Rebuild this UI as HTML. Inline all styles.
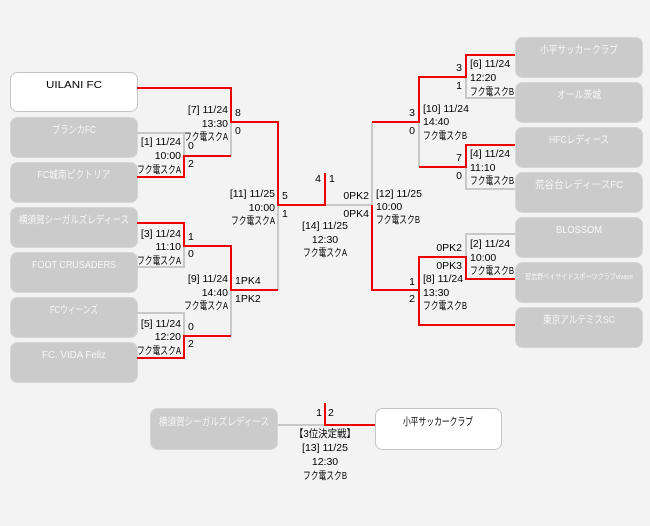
<!DOCTYPE html>
<html><head><meta charset="utf-8"><style>
html,body{margin:0;padding:0;background:#f3f3f3;}
svg{display:block;font-family:"Liberation Sans","Noto Sans CJK JP",sans-serif;font-size:10.5px;}
.t{fill:#000;}
.w{fill:#f6f6f6;font-size:10.5px;}
.b{fill:#000;font-size:10.5px;}
</style></head><body>
<svg width="650" height="526" viewBox="0 0 650 526">
<rect width="650" height="526" fill="#f3f3f3"/>
<g fill="#cbcbcb" stroke="#d6d6d6" stroke-width="1">
<rect x="10.5" y="117.5" width="127" height="40" rx="7"/>
<rect x="10.5" y="162.5" width="127" height="40" rx="7"/>
<rect x="10.5" y="207.5" width="127" height="40" rx="7"/>
<rect x="10.5" y="252.5" width="127" height="40" rx="7"/>
<rect x="10.5" y="297.5" width="127" height="40" rx="7"/>
<rect x="10.5" y="342.5" width="127" height="40" rx="7"/>
<rect x="515.5" y="37.5" width="127" height="40" rx="7"/>
<rect x="515.5" y="82.5" width="127" height="40" rx="7"/>
<rect x="515.5" y="127.5" width="127" height="40" rx="7"/>
<rect x="515.5" y="172.5" width="127" height="40" rx="7"/>
<rect x="515.5" y="217.5" width="127" height="40" rx="7"/>
<rect x="515.5" y="262.5" width="127" height="40" rx="7"/>
<rect x="515.5" y="307.5" width="127" height="40" rx="7"/>
<rect x="150.5" y="408.5" width="127" height="41" rx="7"/>
</g>
<g fill="#fff" stroke="#c4c4c4" stroke-width="1">
<rect x="10.5" y="72.5" width="127" height="39" rx="7"/>
<rect x="375.5" y="408.5" width="126" height="41" rx="7"/>
</g>
<g fill="none" stroke="#c8c8c8" stroke-width="2">
<polyline points="137,133 184,133 184,156"/>
<polyline points="231,122 231,156"/>
<polyline points="184,246 184,267 137,267"/>
<polyline points="231,290 231,336"/>
<polyline points="137,313 184,313 184,336"/>
<polyline points="278,205 278,290"/>
<polyline points="325,205 372,205 372,122"/>
<polyline points="466,77 466,98 515,98"/>
<polyline points="419,122 419,167"/>
<polyline points="466,167 466,189 515,189"/>
<polyline points="466,257 466,234 515,234"/>
<polyline points="278,425 325,425"/>
</g>
<g fill="none" stroke="#ee0000" stroke-width="2">
<polyline points="137,88 231,88 231,122 278,122 278,205 325,205 325,173"/>
<polyline points="137,177 184,177 184,156 231,156"/>
<polyline points="137,223 184,223 184,246 231,246 231,290 278,290"/>
<polyline points="137,358 184,358 184,336 231,336"/>
<polyline points="372,205 372,290 419,290"/>
<polyline points="372,122 419,122 419,77 466,77 466,55 515,55"/>
<polyline points="419,167 466,167 466,145 515,145"/>
<polyline points="515,279 466,279 466,257 419,257 419,325 515,325"/>
<polyline points="325,403 325,425 375,425"/>
</g>
<g class="w" text-anchor="middle">
<text x="74" y="88" class="b" textLength="56" lengthAdjust="spacingAndGlyphs">UILANI FC</text>
<text x="74" y="133" textLength="44" lengthAdjust="spacingAndGlyphs">ブランカFC</text>
<text x="74" y="178" textLength="73" lengthAdjust="spacingAndGlyphs">FC城南ピクトリア</text>
<text x="74" y="223" textLength="110" lengthAdjust="spacingAndGlyphs">横須賀シーガルズレディース</text>
<text x="74" y="268" textLength="84" lengthAdjust="spacingAndGlyphs">FOOT CRUSADERS</text>
<text x="74" y="313" textLength="48" lengthAdjust="spacingAndGlyphs">FCウィーンズ</text>
<text x="74" y="358" textLength="64" lengthAdjust="spacingAndGlyphs">FC. VIDA Feliz</text>
<text x="579" y="53" textLength="78" lengthAdjust="spacingAndGlyphs">小平サッカークラブ</text>
<text x="579" y="98" textLength="44" lengthAdjust="spacingAndGlyphs">オール茨城</text>
<text x="579" y="143" textLength="60" lengthAdjust="spacingAndGlyphs">HFCレディース</text>
<text x="579" y="188" textLength="88" lengthAdjust="spacingAndGlyphs">荒谷台レディースFC</text>
<text x="579" y="233" textLength="46" lengthAdjust="spacingAndGlyphs">BLOSSOM</text>
<text x="579" y="279" style="font-size:7.5px" textLength="108" lengthAdjust="spacingAndGlyphs">習志野ベイサイドスポーツクラブvivace</text>
<text x="579" y="323" textLength="72" lengthAdjust="spacingAndGlyphs">東京アルテミスSC</text>
<text x="214" y="425" textLength="110" lengthAdjust="spacingAndGlyphs">横須賀シーガルズレディース</text>
<text x="438" y="425" class="b" textLength="70" lengthAdjust="spacingAndGlyphs">小平サッカークラブ</text>
</g>
<g class="t" text-anchor="end">
<text x="181" y="145">[1] 11/24</text><text x="181" y="159">10:00</text><text x="181" y="173" textLength="44" lengthAdjust="spacingAndGlyphs">フク電スクA</text>
<text x="228" y="113">[7] 11/24</text><text x="228" y="127">13:30</text><text x="228" y="140" textLength="44" lengthAdjust="spacingAndGlyphs">フク電スクA</text>
<text x="275" y="197">[11] 11/25</text><text x="275" y="211">10:00</text><text x="275" y="224" textLength="44" lengthAdjust="spacingAndGlyphs">フク電スクA</text>
<text x="181" y="237">[3] 11/24</text><text x="181" y="250">11:10</text><text x="181" y="264" textLength="44" lengthAdjust="spacingAndGlyphs">フク電スクA</text>
<text x="228" y="282">[9] 11/24</text><text x="228" y="296">14:40</text><text x="228" y="309" textLength="44" lengthAdjust="spacingAndGlyphs">フク電スクA</text>
<text x="181" y="327">[5] 11/24</text><text x="181" y="340">12:20</text><text x="181" y="354" textLength="44" lengthAdjust="spacingAndGlyphs">フク電スクA</text>
<text x="321" y="182">4</text>
<text x="369" y="199">0PK2</text><text x="369" y="217">0PK4</text>
<text x="415" y="116">3</text><text x="415" y="134">0</text>
<text x="462" y="71">3</text><text x="462" y="89">1</text>
<text x="462" y="161">7</text><text x="462" y="179">0</text>
<text x="462" y="251">0PK2</text><text x="462" y="269">0PK3</text>
<text x="415" y="285">1</text><text x="415" y="302">2</text>
<text x="322" y="416">1</text>
</g>
<g class="t">
<text x="188" y="149">0</text><text x="188" y="167">2</text>
<text x="235" y="116">8</text><text x="235" y="134">0</text>
<text x="282" y="199">5</text><text x="282" y="217">1</text>
<text x="188" y="240">1</text><text x="188" y="257">0</text>
<text x="235" y="284">1PK4</text><text x="235" y="302">1PK2</text>
<text x="188" y="330">0</text><text x="188" y="347">2</text>
<text x="329" y="182">1</text>
<text x="376" y="197">[12] 11/25</text><text x="376" y="210">10:00</text><text x="376" y="223" textLength="44" lengthAdjust="spacingAndGlyphs">フク電スクB</text>
<text x="423" y="112">[10] 11/24</text><text x="423" y="125">14:40</text><text x="423" y="139" textLength="44" lengthAdjust="spacingAndGlyphs">フク電スクB</text>
<text x="470" y="67">[6] 11/24</text><text x="470" y="81">12:20</text><text x="470" y="95" textLength="44" lengthAdjust="spacingAndGlyphs">フク電スクB</text>
<text x="470" y="157">[4] 11/24</text><text x="470" y="171">11:10</text><text x="470" y="184" textLength="44" lengthAdjust="spacingAndGlyphs">フク電スクB</text>
<text x="470" y="247">[2] 11/24</text><text x="470" y="261">10:00</text><text x="470" y="274" textLength="44" lengthAdjust="spacingAndGlyphs">フク電スクB</text>
<text x="423" y="282">[8] 11/24</text><text x="423" y="296">13:30</text><text x="423" y="309" textLength="44" lengthAdjust="spacingAndGlyphs">フク電スクB</text>
<text x="328" y="416">2</text>
</g>
<g class="t" text-anchor="middle">
<text x="325" y="229">[14] 11/25</text><text x="325" y="243">12:30</text><text x="325" y="256" textLength="44" lengthAdjust="spacingAndGlyphs">フク電スクA</text>
<text x="325" y="437" textLength="62" lengthAdjust="spacingAndGlyphs">【3位決定戦】</text><text x="325" y="451">[13] 11/25</text><text x="325" y="465">12:30</text><text x="325" y="479" textLength="44" lengthAdjust="spacingAndGlyphs">フク電スクB</text>
</g>
</svg>
</body></html>
